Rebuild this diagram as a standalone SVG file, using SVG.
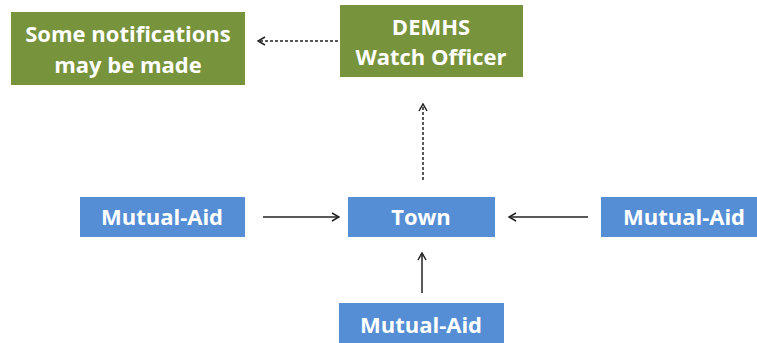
<svg xmlns="http://www.w3.org/2000/svg" width="757" height="343" viewBox="0 0 757 343">
<style>
.g{fill:#77933C}
.b{fill:#558ED5}
.t{font-family:"Open Sans","Liberation Sans",sans-serif;font-weight:bold;font-size:22px;fill:#fff;text-anchor:middle;dominant-baseline:central}
.c{stroke:#222;stroke-width:1.5;fill:none}
.d{stroke-dasharray:3,2}
</style>
<defs>
<marker id="ah" markerWidth="10" markerHeight="10" refX="9" refY="5" orient="auto" markerUnits="userSpaceOnUse">
<polyline points="2,1 9,5 2,9" fill="none" stroke="#222" stroke-width="1.5"/>
</marker>
</defs>
<rect width="757" height="343" fill="#fff"/>
<g id="notif"><rect class="g" x="11" y="12" width="234" height="73"/><text class="t" x="128" y="33">Some notifications</text><text class="t" x="128" y="64">may be made</text></g>
<g id="demhs"><rect class="g" x="340" y="5" width="183" height="72"/><text class="t" x="431" y="26">DEMHS</text><text class="t" x="431" y="56">Watch Officer</text></g>
<g id="town"><rect class="b" x="348" y="197" width="147" height="40"/><text class="t" x="421" y="216">Town</text></g>
<g id="ma-left"><rect class="b" x="80" y="197" width="165" height="40"/><text class="t" x="162" y="216">Mutual-Aid</text></g>
<g id="ma-right"><rect class="b" x="601" y="197" width="156" height="40"/><text class="t" x="684" y="216">Mutual-Aid</text></g>
<g id="ma-bottom"><rect class="b" x="339" y="303" width="165" height="40"/><text class="t" x="421" y="324">Mutual-Aid</text></g>
<g id="connectors">
<line class="c d" x1="338" y1="41" x2="258" y2="41" marker-end="url(#ah)"/>
<line class="c d" x1="423" y1="180" x2="423" y2="104" marker-end="url(#ah)"/>
<line class="c" x1="263" y1="217" x2="339" y2="217" marker-end="url(#ah)"/>
<line class="c" x1="588" y1="217" x2="509" y2="217" marker-end="url(#ah)"/>
<line class="c" x1="422" y1="293" x2="422" y2="253" marker-end="url(#ah)"/>
</g>
</svg>
